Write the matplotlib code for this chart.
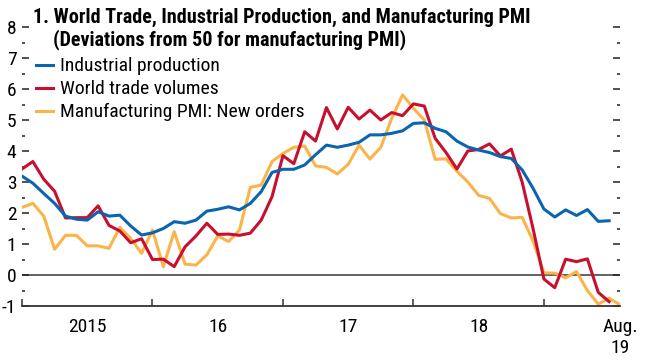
"""World trade, industrial production and manufacturing PMI, monthly, 2015 to Aug. 2019."""
import matplotlib
matplotlib.use("Agg")
import matplotlib.pyplot as plt
from matplotlib import font_manager
from matplotlib.ticker import FixedLocator, FixedFormatter, MultipleLocator
from matplotlib.lines import Line2D

# the original uses a condensed sans; take one if there is one installed
installed = {f.name for f in font_manager.fontManager.ttflist}
for name in ["Liberation Sans Narrow", "Arial Narrow", "Roboto Condensed",
             "Open Sans Condensed", "Liberation Sans"]:
    if name in installed:
        FONT = name
        break
else:
    FONT = "DejaVu Sans"
plt.rcParams['font.family'] = [FONT, 'DejaVu Sans']
plt.rcParams['axes.unicode_minus'] = False

# month index 0 = Jan. 2015
industrial = [3.19, 2.96, 2.63, 2.31, 1.90, 1.80, 1.77, 2.04, 1.90, 1.93,
              1.58, 1.29, 1.36, 1.50, 1.72, 1.67, 1.77, 2.06, 2.12, 2.20,
              2.10, 2.31, 2.69, 3.31, 3.41, 3.41, 3.55, 3.88, 4.19, 4.12,
              4.19, 4.28, 4.52, 4.52, 4.57, 4.65, 4.89, 4.91, 4.73, 4.62,
              4.32, 4.13, 4.03, 3.95, 3.82, 3.76, 3.39, 2.80, 2.13, 1.87,
              2.10, 1.92, 2.11, 1.73, 1.75]
trade = [3.42, 3.66, 3.09, 2.70, 1.84, 1.85, 1.85, 2.23, 1.60, 1.42,
         1.04, 1.17, 0.50, 0.51, 0.27, 0.91, 1.26, 1.67, 1.31, 1.32,
         1.28, 1.35, 1.77, 2.53, 3.85, 3.59, 4.62, 4.32, 5.40, 4.71,
         5.41, 5.03, 5.32, 5.00, 5.24, 5.14, 5.52, 5.45, 4.41, 3.95,
         3.42, 4.00, 4.05, 4.23, 3.84, 4.06, 3.00, 1.50, -0.13, -0.41,
         0.51, 0.43, 0.52, -0.56, -0.86]
pmi_orders = [2.18, 2.31, 1.90, 0.83, 1.28, 1.28, 0.94, 0.94, 0.86, 1.54,
              1.18, 0.70, 1.45, 0.27, 1.40, 0.35, 0.32, 0.65, 1.26, 1.08,
              1.45, 2.83, 2.90, 3.66, 3.92, 4.12, 4.16, 3.52, 3.47, 3.26,
              3.57, 4.19, 3.74, 4.12, 5.05, 5.81, 5.38, 5.00, 3.73, 3.75,
              3.35, 3.00, 2.57, 2.47, 1.98, 1.84, 1.86, 1.10, 0.07, 0.06,
              -0.09, 0.11, -0.50, -0.94, -0.75, -0.96]

year_ticks = [0, 12, 24, 36, 48]
label_pos = [6, 18, 30, 42, 55]
label_text = ["2015", "16", "17", "18", "Aug.\n19"]
names = ["Industrial production", "World trade volumes", "Manufacturing PMI: New orders"]

BLUE = "#0b64b0"
RED = "#c8102e"
YELLOW = "#fbb44a"

fig = plt.figure(figsize=(6.5, 3.62), dpi=100)
ax = fig.add_axes([22 / 650, 1 - 306 / 362, 598 / 650, 279 / 362])

ax.axhline(0, color="#555555", lw=1.3, zorder=1)
ax.plot(range(len(pmi_orders)), pmi_orders, color=YELLOW, lw=2.2, zorder=2)
ax.plot(range(len(trade)), trade, color=RED, lw=2.2, zorder=3)
ax.plot(range(len(industrial)), industrial, color=BLUE, lw=2.2, zorder=4)

ax.set_xlim(0, 55)
ax.set_ylim(-1, 8)

for s in ["top", "left", "right"]:
    ax.spines[s].set_visible(False)
ax.spines["bottom"].set_color("#333333")
ax.spines["bottom"].set_linewidth(1.3)

ax.yaxis.set_major_locator(MultipleLocator(1))
ax.yaxis.set_minor_locator(MultipleLocator(0.5))
ax.tick_params(axis="y", which="both", direction="in", left=True, right=True,
               labelleft=True, labelright=False, colors="#222222",
               labelcolor="black", labelsize=14, pad=4)
ax.tick_params(axis="y", which="major", length=5, width=1.1)
ax.tick_params(axis="y", which="minor", length=2.2, width=1.1)

ax.xaxis.set_major_locator(FixedLocator(year_ticks))
ax.xaxis.set_minor_locator(FixedLocator(label_pos))
ax.xaxis.set_major_formatter(FixedFormatter([""] * len(year_ticks)))
ax.xaxis.set_minor_formatter(FixedFormatter(label_text))
ax.tick_params(axis="x", which="major", direction="in", length=5, width=1.1,
               color="#333333")
ax.tick_params(axis="x", which="minor", length=0, labelsize=14, pad=9)
for t in ax.xaxis.get_minorticklabels():
    t.set_horizontalalignment("center")
    t.set_multialignment("center")

title1 = fig.text(33 / 650, 1 - 17 / 362,
                  "1. World Trade, Industrial Production, and Manufacturing PMI",
                  fontsize=13, fontweight="bold", va="center", ha="left")
title2 = fig.text(53 / 650, 1 - 40 / 362, "(Deviations from 50 for manufacturing PMI)",
                  fontsize=13, fontweight="bold", va="center", ha="left")

handles = [Line2D([], [], color=c, lw=2.2) for c in (BLUE, RED, YELLOW)]
leg = ax.legend(handles, names, loc="upper left", bbox_to_anchor=(36 / 650, 1 - 57 / 362),
                bbox_transform=fig.transFigure, frameon=False, fontsize=13,
                handlelength=0.95, handletextpad=0.4, borderpad=0, borderaxespad=0,
                labelspacing=0.28)

# bring the texts near the widths they have in the original (px)
renderer = fig.canvas.get_renderer()
for t, width in [(title1, 509), (title2, 453)]:
    w = t.get_window_extent(renderer).width
    t.set_fontsize(min(14.5, 13 * width / w))
leg_text = leg.get_texts()[2]
w = leg_text.get_window_extent(renderer).width
size = min(14, 13 * 245 / w)
for t in leg.get_texts():
    t.set_fontsize(size)

fig.savefig("out.png", dpi=100)
